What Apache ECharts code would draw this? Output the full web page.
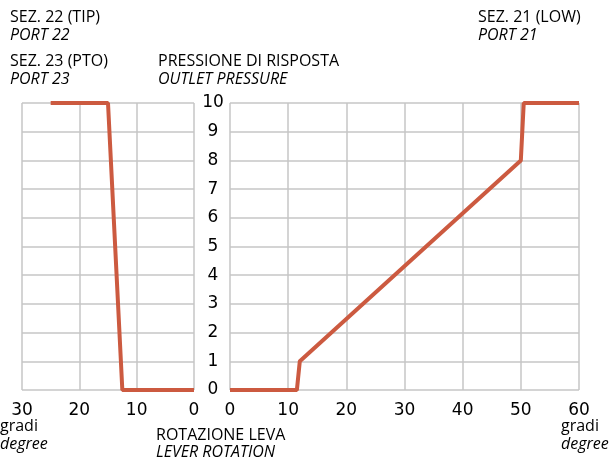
<!DOCTYPE html>
<html><head><meta charset="utf-8">
<script src="https://cdn.jsdelivr.net/npm/echarts@6/dist/echarts.min.js"></script>
<style>html,body{margin:0;padding:0;background:#fff}#c{width:615px;height:459px}</style>
</head><body><div id="c"></div>
<script>
// Data
const leftTicks = [30, 20, 10, 0];
const rightTicks = [0, 10, 20, 30, 40, 50, 60];
const yTicks = [0,1,2,3,4,5,6,7,8,9,10];
const port22_23_x = [25, 15, 12.5, 0];
const port22_23_y = [10, 10, 0, 0];
const port21_x = [0, 11.5, 12, 50, 50.5, 60];
const port21_y = [0, 0, 1, 8, 10, 10];

const FONT = 'Open Sans';
const NUMFONT = 'DejaVu Sans';
const RED = '#cc5a40';
const GRIDC = '#c6c6c6';
const chart = echarts.init(document.getElementById('c'), null, {renderer:'canvas'});
const zip = (xs, ys) => xs.map((x,i)=>[x, ys[i]]);
const txt = (x, y, s, italic, size) => ({type:'text', left:x, top:y, style:{text:s, font:(italic?'italic ':'')+(size||16)+'px "'+FONT+'"', fill:'#000'}});

chart.setOption({
  animation:false,
  grid:[
    {left:22, top:103, width:172, height:287},
    {left:230, top:103, width:349, height:287}
  ],
  xAxis:[
    {gridIndex:0, type:'value', min:0, max:30, interval:10, inverse:true,
     axisLine:{show:false}, axisTick:{show:false},
     splitLine:{show:true, lineStyle:{color:GRIDC, width:1.5}},
     axisLabel:{color:'#000', fontSize:17, fontFamily:NUMFONT, margin:12, showMinLabel:true, showMaxLabel:true,
       formatter:v=>leftTicks.includes(v)?String(v):''}},
    {gridIndex:1, type:'value', min:0, max:60, interval:10,
     axisLine:{show:false}, axisTick:{show:false},
     splitLine:{show:true, lineStyle:{color:GRIDC, width:1.5}},
     axisLabel:{color:'#000', fontSize:17, fontFamily:NUMFONT, margin:12, showMinLabel:true, showMaxLabel:true,
       formatter:v=>rightTicks.includes(v)?String(v):''}}
  ],
  yAxis:[
    {gridIndex:0, type:'value', min:0, max:10, interval:1,
     axisLine:{show:false}, axisTick:{show:false}, axisLabel:{show:false},
     splitLine:{show:true, lineStyle:{color:GRIDC, width:1.5}}},
    {gridIndex:1, type:'value', min:0, max:10, interval:1,
     axisLine:{show:false}, axisTick:{show:false},
     axisLabel:{color:'#000', fontSize:17, fontFamily:NUMFONT, margin:17, align:'center',
       formatter:v=>yTicks.includes(v)?String(v):''},
     splitLine:{show:true, lineStyle:{color:GRIDC, width:1.5}}}
  ],
  series:[
    {type:'line', xAxisIndex:0, yAxisIndex:0, data:zip(port22_23_x, port22_23_y), symbol:'none',
     lineStyle:{color:RED, width:4}},
    {type:'line', xAxisIndex:1, yAxisIndex:1, data:zip(port21_x, port21_y), symbol:'none',
     lineStyle:{color:RED, width:4}}
  ],
  graphic:[
    txt(10, 9, 'SEZ. 22 (TIP)'),
    txt(10, 27, 'PORT 22', true),
    txt(10, 53, 'SEZ. 23 (PTO)'),
    txt(10, 71, 'PORT 23', true),
    txt(158, 53, 'PRESSIONE DI RISPOSTA'),
    txt(158, 71, 'OUTLET PRESSURE', true),
    txt(478, 9, 'SEZ. 21 (LOW)'),
    txt(478, 27, 'PORT 21', true),
    txt(0, 418, 'gradi'),
    txt(0, 436, 'degree', true),
    txt(561, 418, 'gradi'),
    txt(561, 436, 'degree', true),
    txt(156, 427, 'ROTAZIONE LEVA'),
    txt(156, 444, 'LEVER ROTATION', true)
  ]
});
</script></body></html>
